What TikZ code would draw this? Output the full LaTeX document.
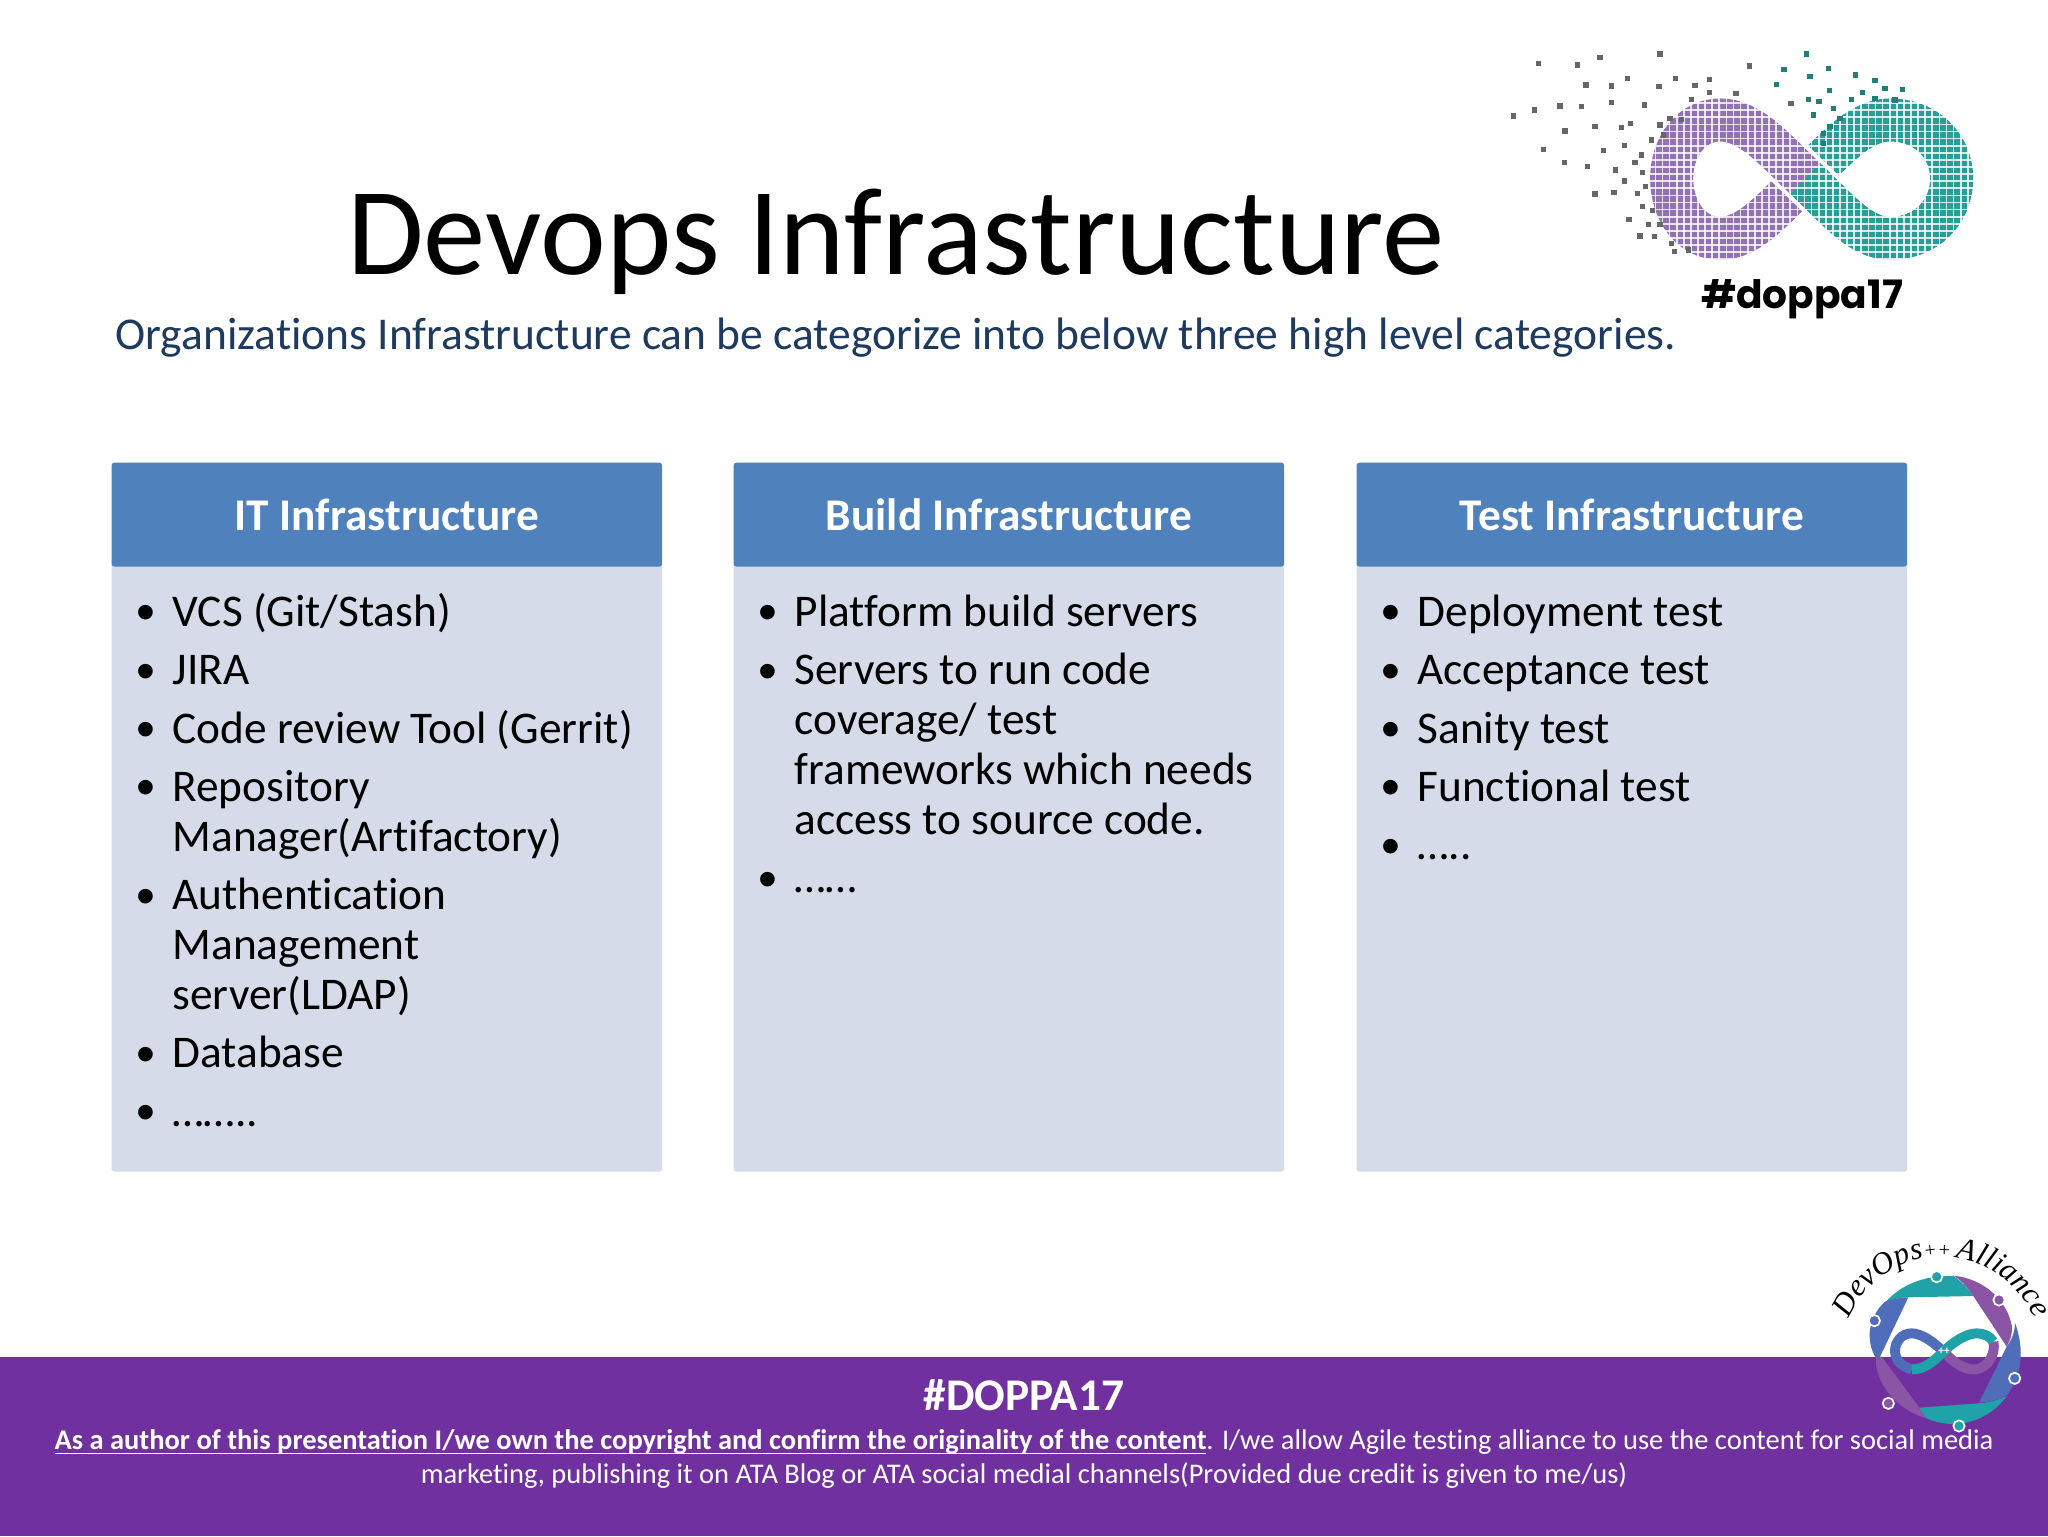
\documentclass[tikz,border=0pt]{standalone}
\usepackage{xcolor}
\usepackage{fontspec}
\setmainfont[Ligatures=NoCommon]{Carlito}
\newfontfamily\bulletfont{Liberation Sans}
\newfontfamily\hashfont{Poppins}
\newfontfamily\swashfont{Liberation Serif}
\newcommand{\swashbig}{\fontsize{11}{12}\selectfont\swashfont\itshape}
\newcommand{\swashsmall}{\fontsize{7}{8}\selectfont\swashfont\itshape}
\usetikzlibrary{decorations.text}
\definecolor{headblue}{HTML}{4F81BD}
\definecolor{bodyblue}{HTML}{D6DBE9}
\definecolor{bannerpurple}{HTML}{7030A0}
\definecolor{subnavy}{HTML}{1F3A5F}
\definecolor{dotpurple}{HTML}{9272B0}
\definecolor{dotteal}{HTML}{2A9E96}
\definecolor{ringblue}{HTML}{4F6DB8}
\definecolor{ringteal}{HTML}{1FA3A8}
\definecolor{ringpurple}{HTML}{8A55A5}
\newenvironment{boxlist}{\hyphenpenalty=10000\relax\spaceskip=3.6pt\relax\begin{list}{\raisebox{-1.5pt}{\bulletfont\fontsize{19}{19}\selectfont•}}{\setlength{\leftmargin}{12.7pt}\setlength{\labelwidth}{12.7pt}\setlength{\labelsep}{0pt}\setlength{\itemsep}{3pt}\setlength{\parsep}{0pt}\setlength{\topsep}{0pt}\setlength{\partopsep}{0pt}\renewcommand{\makelabel}[1]{##1\hfil}}}{\end{list}}
\tikzset{
  headbox/.style={anchor=north west, fill=headblue, text=white, rounded corners=1pt, minimum width=6.83cm, minimum height=1.29cm, inner sep=0pt, font=\fontsize{16}{18}\selectfont\bfseries},
  bodybox/.style={anchor=north west, fill=bodyblue, rounded corners=1pt, minimum width=6.83cm, minimum height=7.58cm, inner sep=0pt},
  listtext/.style={anchor=north west, inner sep=0pt, text width=6.3cm, align=left, font=\fontsize{16}{17.6}\selectfont},
  smallring/.style={circle, draw=white, line width=.6pt, minimum size=1.4mm, inner sep=0pt},
}
\begin{document}
\begin{tikzpicture}[x=0.0124023cm, y=-0.0124023cm]
    \useasboundingbox (0,0) rectangle (2048,1536);
    \fill[white] (0,0) rectangle (2048,1536);

    % infinity logo
    \begin{scope}[shift={(1480,30)}, x=0.0041341cm, y=-0.0041341cm]
        \draw[dotpurple, line width=15.2pt] (975,445) .. controls (880,355) and (810,270) .. (720,270) .. controls (635,270) and (575,350) .. (575,445) .. controls (575,545) and (635,625) .. (720,625) .. controls (810,625) and (880,535) .. (975,445);
        \draw[dotteal, line width=15.2pt] (975,445) .. controls (1070,355) and (1140,270) .. (1230,270) .. controls (1340,270) and (1415,350) .. (1415,445) .. controls (1415,545) and (1340,625) .. (1230,625) .. controls (1140,625) and (1070,535) .. (975,445);
        \draw[white, line width=18pt] (975,445) .. controls (880,355) and (810,270) .. (720,270);
        \draw[white, line width=18pt] (975,445) .. controls (1070,535) and (1140,625) .. (1230,625);
        \draw[dotpurple, line width=15.2pt] (975,445) .. controls (880,355) and (810,270) .. (720,270);
        \draw[dotteal, line width=15.2pt] (975,445) .. controls (1070,535) and (1140,625) .. (1230,625);
        \foreach \i in {0,...,46}
            \draw[white, line width=.6pt, opacity=.8] (505+\i*21.3,195) -- (505+\i*21.3,700);
        \foreach \i in {0,...,24}
            \draw[white, line width=.6pt, opacity=.8] (500,198+\i*21.3) -- (1490,198+\i*21.3);
        \foreach \dx/\dy in {540/72,175/100,293/105,360/83,808/108,318/165,395/168,442/145,537/170,587/145,645/167,688/148,688/187,768/190,240/228,305/230,395/218,163/240,100/258,493/225,635/208,933/220,255/303,345/290,425/293,452/280,540/285,190/358,370/362,433/347,515/330,485/375,465/397,253/398,322/410,407/420,487/428,433/453,497/470,472/490,345/492,402/488,487/530,517/542,447/568,505/583,540/583,480/618,523/620,575/640,583/665,625/660,570/265,605/268,550/315}
            \fill[black!60] (\dx-8,\dy-8) rectangle (\dx+8,\dy+8);
        \foreach \dx/\dy in {980/72,912/118,1045/115,1127/135,990/140,1185/152,890/163,1048/182,1148/188,1215/175,1268/178,985/208,1017/215,1060/235,1000/255,1080/265,1050/290,1030/310,1030/340,1115/208,1185/205,1245/210}
            \fill[dotteal!80!black] (\dx-8,\dy-8) rectangle (\dx+8,\dy+8);
    \end{scope}
    \node (hash) at (1802,308) [anchor=base, inner sep=0pt, font=\fontsize{13.8}{16}\selectfont\hashfont\bfseries] {\#doppa17};

    \node (title) at (896,274) [anchor=base, inner sep=0pt, font=\fontsize{44}{48}\selectfont] {Devops Infrastructure};
    \node (subtitle) at (115,349) [anchor=base west, inner sep=0pt, text=subnavy, font=\fontsize{16.05}{18}\selectfont] {Organizations Infrastructure can be categorize into below three high level categories.};

    \node (itBody) at (111,560) [bodybox] {};
    \node (buildBody) at (733,560) [bodybox] {};
    \node (testBody) at (1356,560) [bodybox] {};
    \node (itHead) at (111,462) [headbox] {IT Infrastructure};
    \node (buildHead) at (733,462) [headbox] {Build Infrastructure};
    \node (testHead) at (1356,462) [headbox] {Test Infrastructure};

    \node (itList) at (136,576) [listtext] {\begin{boxlist}
        \item VCS (Git/Stash)
        \item JIRA
        \item Code review Tool (Gerrit)
        \item Repository Manager(Artifactory)
        \item Authentication Management server(LDAP)
        \item Database
        \item ……..
    \end{boxlist}};
    \node (buildList) at (758,576) [listtext] {\begin{boxlist}
        \item Platform build servers
        \item Servers to run code coverage/ test frameworks which needs access to source code.
        \item ……
    \end{boxlist}};
    \node (testList) at (1381,576) [listtext] {\begin{boxlist}
        \item Deployment test
        \item Acceptance test
        \item Sanity test
        \item Functional test
        \item …..
    \end{boxlist}};

    \fill[bannerpurple] (0,1357) rectangle (2048,1536);

    % alliance logo
    \begin{scope}[shift={(1780,1210)}, x=0.0041341cm, y=-0.0041341cm]
        \fill[ringteal] (315,278) .. controls (370,215) and (450,195) .. (520,198) .. controls (545,215) and (565,235) .. (580,258) -- (385,262) .. controls (360,262) and (335,268) .. (315,278) -- cycle;
        \fill[ringpurple] (520,197) .. controls (610,205) and (680,270) .. (695,345) .. controls (698,370) and (692,390) .. (680,410) -- (578,255) .. controls (560,230) and (545,212) .. (520,197) -- cycle;
        \fill[ringblue] (705,338) .. controls (735,420) and (725,500) .. (680,556) .. controls (655,570) and (625,576) .. (597,578) -- (680,410) .. controls (695,390) and (705,365) .. (705,338) -- cycle;
        \fill[ringteal] (680,558) .. controls (630,630) and (530,665) .. (440,625) .. controls (430,615) and (422,605) .. (418,593) -- (597,580) .. controls (625,578) and (655,570) .. (680,558) -- cycle;
        \fill[ringpurple] (440,625) .. controls (350,600) and (285,520) .. (288,445) .. controls (292,440) and (298,440) .. (305,440) -- (418,593) .. controls (425,605) and (430,615) .. (440,625) -- cycle;
        \fill[ringblue] (288,445) .. controls (255,390) and (265,320) .. (315,275) .. controls (335,268) and (360,262) .. (385,262) -- (300,440) -- cycle;
        \draw[ringblue, line width=3.5pt] (490,425) .. controls (455,390) and (420,370) .. (395,370) .. controls (365,370) and (345,395) .. (345,423) .. controls (345,450) and (365,470) .. (395,478);
        \draw[ringpurple, line width=3.5pt] (640,395) .. controls (648,430) and (625,475) .. (585,478) .. controls (550,480) and (520,455) .. (490,425);
        \draw[ringteal, line width=3.5pt] (395,478) .. controls (430,480) and (460,455) .. (490,425) .. controls (520,395) and (560,370) .. (590,370) .. controls (610,370) and (630,378) .. (640,395);
        \node (plus) at (492,425) [text=white, inner sep=0pt, font=\fontsize{4}{4}\selectfont\bfseries] {++};
        \node (ringA) at (470,200) [smallring, fill=ringteal] {};
        \node (ringB) at (657,270) [smallring, fill=ringpurple] {};
        \node (ringC) at (704,505) [smallring, fill=ringblue] {};
        \node (ringD) at (537,648) [smallring, fill=ringteal] {};
        \node (ringE) at (325,580) [smallring, fill=ringpurple] {};
        \node (ringF) at (283,332) [smallring, fill=ringblue] {};
        \path[decorate, decoration={text along path, text align=center, text={|\swashbig|DevOps|\swashsmall|++ |\swashbig|Alliance}}] (485,440) ++(190:300) arc [start angle=190, end angle=350, radius=300];
    \end{scope}

    \node (doppa) at (1024,1395) [text=white, inner sep=0pt, font=\fontsize{16}{18}\selectfont\bfseries] {\#DOPPA17};
    \node (legal) at (1024,1459) [text=white, inner sep=0pt, align=center, font=\fontsize{10.05}{12}\selectfont] {\underline{\smash{\textbf{As a author of this presentation I/we own the copyright and confirm the originality of the content}}}. I/we allow Agile testing alliance to use the content for social media\\marketing, publishing it on ATA Blog or ATA social medial channels(Provided due credit is given to me/us)};
\end{tikzpicture}
\end{document}
